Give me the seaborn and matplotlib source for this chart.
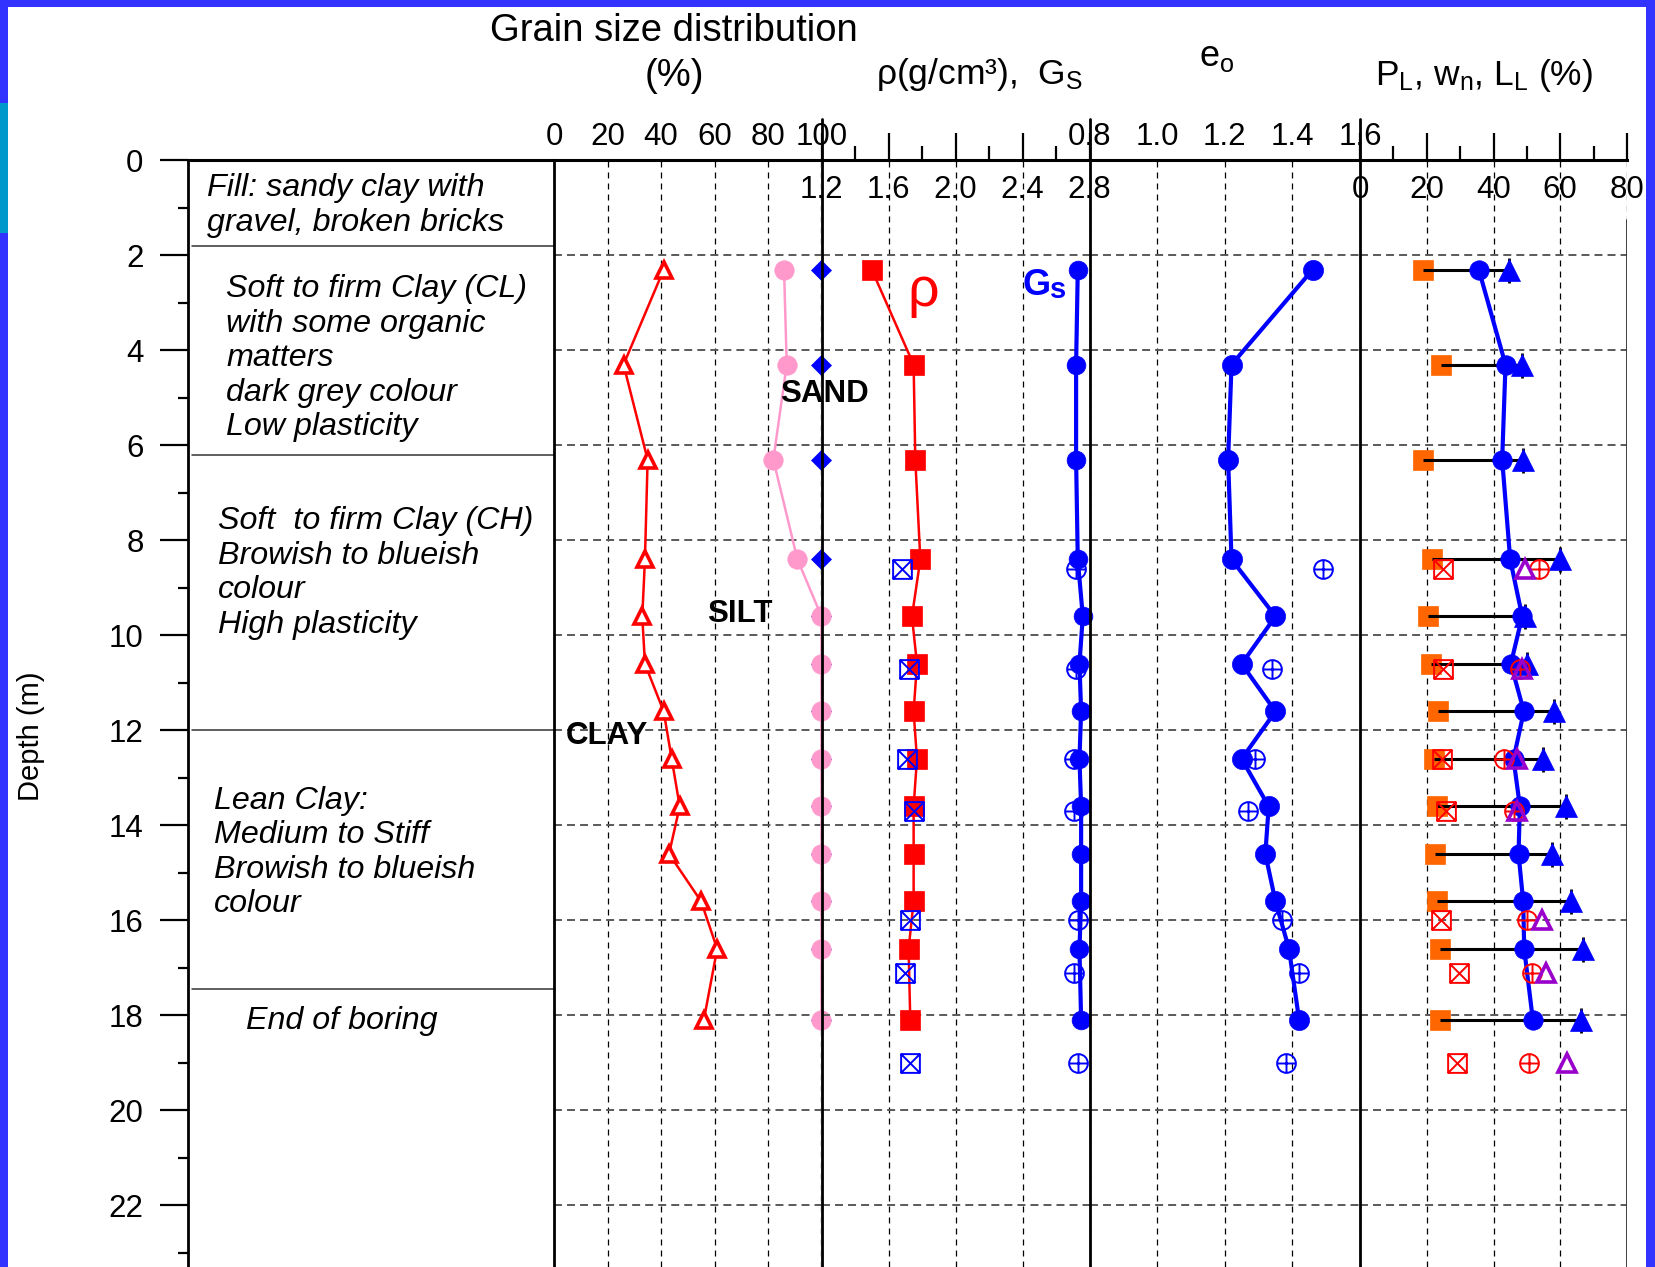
import matplotlib
matplotlib.use("Agg")
import matplotlib.pyplot as plt
import seaborn as sns
from matplotlib.path import Path
from matplotlib.patches import Rectangle
from matplotlib.ticker import FormatStrFormatter

# ---------------- borehole data ----------------
depth = [2.3, 4.3, 6.3, 8.4, 9.6, 10.6, 11.6, 12.6, 13.6, 14.6, 15.6, 16.6, 18.1]
clay_pct = [41, 26, 35, 34, 33, 34, 41, 44, 47, 43, 55, 61, 56]
silt_clay_pct = [86, 87, 82, 91, 100, 100, 100, 100, 100, 100, 100, 100, 100]
sand_silt_clay_pct = [100, 100, 100, 100, 100, 100, 100, 100, 100, 100, 100, 100, 100]
rho = [1.50, 1.75, 1.76, 1.79, 1.74, 1.77, 1.75, 1.77, 1.75, 1.75, 1.75, 1.72, 1.73]
gs = [2.73, 2.72, 2.72, 2.73, 2.76, 2.74, 2.75, 2.74, 2.75, 2.75, 2.75, 2.74, 2.75]
e0 = [1.46, 1.22, 1.21, 1.22, 1.35, 1.25, 1.35, 1.25, 1.33, 1.32, 1.35, 1.39, 1.42]
pl = [19.0, 24.3, 19.0, 21.5, 20.4, 21.3, 23.5, 22.1, 23.0, 22.6, 23.0, 24.0, 24.0]
wn = [35.6, 43.6, 42.6, 45.0, 48.6, 45.2, 49.1, 46.0, 47.9, 47.5, 48.9, 49.2, 51.8]
ll = [44.5, 48.6, 48.9, 60.0, 49.5, 50.0, 58.0, 54.9, 61.7, 57.5, 63.1, 66.7, 66.2]

# second borehole (open symbols)
depth_b = [8.6, 10.7, 12.6, 13.7, 16.0, 17.1, 19.0]
rho_b = [1.68, 1.72, 1.71, 1.75, 1.73, 1.70, 1.73]
gs_b = [2.72, 2.72, 2.71, 2.71, 2.73, 2.71, 2.73]
e0_b = [1.49, 1.34, 1.29, 1.27, 1.37, 1.42, 1.38]
pl_b = [24.9, 24.9, 24.6, 25.7, 24.4, 29.8, 29.2]
wn_b = [53.7, 47.9, 43.2, 46.2, 50.1, 51.5, 50.6]
ll_b = [49.5, 48.6, 46.9, 46.9, 54.6, 55.8, 61.9]

# soil profile
layer_bounds = [1.8, 6.2, 12.0, 17.45]
layer_texts = [
    (["Fill: sandy clay with", "gravel, broken bricks"], 0.052, 0.75),
    (["Soft to firm Clay (CL)", "with some organic", "matters", "dark grey colour",
      "Low plasticity"], 0.104, 2.88),
    (["Soft  to firm Clay (CH)", "Browish to blueish", "colour", "High plasticity"], 0.083, 7.76),
    (["Lean Clay:", "Medium to Stiff", "Browish to blueish", "colour"], 0.071, 13.65),
    (["End of boring"], 0.158, 18.28),
]

# axis ticks
depth_major = [0, 2, 4, 6, 8, 10, 12, 14, 16, 18, 20, 22]
depth_minor = [1, 3, 5, 7, 9, 11, 13, 15, 17, 19, 21, 23]
grain_ticks = [0, 20, 40, 60, 80, 100]
rho_ticks = [1.2, 1.6, 2.0, 2.4, 2.8]
rho_minor = [1.4, 1.8, 2.2, 2.6]
e0_ticks = [0.8, 1.0, 1.2, 1.4, 1.6]
pl_ticks = [0, 20, 40, 60, 80]
pl_minor = [10, 30, 50, 70]

# ---------------- style ----------------
sns.set_theme(style="white", rc={"axes.edgecolor": "black", "xtick.color": "black",
                                 "ytick.color": "black", "text.color": "black"})
plt.rcParams["font.family"] = ["Liberation Sans", "DejaVu Sans"]
plt.rcParams["mathtext.fontset"] = "custom"
plt.rcParams["mathtext.rm"] = "Liberation Sans"
plt.rcParams["mathtext.it"] = "Liberation Sans:italic"
plt.rcParams["mathtext.bf"] = "Liberation Sans:bold"

RED, BLUE, ORANGE, PINK, PURPLE = "#FF0000", "#0000FF", "#FF6600", "#FF99CC", "#9900CC"

# open square with a cross, and circle with a plus
BOXX = Path([(-1, -1), (1, -1), (1, 1), (-1, 1), (-1, -1), (-1, -1), (1, 1), (-1, 1), (1, -1)],
            [Path.MOVETO, Path.LINETO, Path.LINETO, Path.LINETO, Path.CLOSEPOLY,
             Path.MOVETO, Path.LINETO, Path.MOVETO, Path.LINETO])
OPLUS = Path.make_compound_path(
    Path.unit_circle(),
    Path([(-1, 0), (1, 0), (0, -1), (0, 1)], [Path.MOVETO, Path.LINETO, Path.MOVETO, Path.LINETO]))

W, H = 1655, 1267
TOP = 160.4          # pixel row of depth 0
PX_PER_M = 47.5
fig = plt.figure(figsize=(W / 100, H / 100), dpi=100)
fig.patch.set_facecolor("white")


def fx(px):
    return px / W


def fy(py):
    return 1 - py / H


ax_h = (H - TOP) / H
edges = [188, 554, 821.5, 1089.5, 1360, 1627]
axes = []
for i in range(5):
    a = fig.add_axes([fx(edges[i]), 0, (edges[i + 1] - edges[i]) / W, ax_h],
                     sharey=axes[0] if axes else None)
    axes.append(a)
ax0, ax1, ax2, ax3, ax4 = axes
DMAX = (H - TOP) / PX_PER_M


def profile(ax, x, y, **kw):
    sns.lineplot(x=x, y=y, ax=ax, sort=False, estimator=None, errorbar=None,
                 legend=False, clip_on=False, **kw)


# ---------------- grain size ----------------
profile(ax1, sand_silt_clay_pct, depth, color=BLUE, linestyle="none", marker="D",
        markersize=10.5, markeredgecolor=BLUE, markeredgewidth=0.5, zorder=3)
profile(ax1, silt_clay_pct, depth, color=PINK, linewidth=1.8, marker="o", markersize=14,
        markeredgecolor=PINK, markeredgewidth=0.5, zorder=3.2)
profile(ax1, clay_pct, depth, color=RED, linewidth=1.8, marker="^", markersize=12,
        markerfacecolor="white", markeredgecolor=RED, markeredgewidth=2.6, zorder=4)
tkw = dict(ha="center", va="center_baseline", fontsize=22.5, fontweight="bold", clip_on=False,
           zorder=6)
ax1.text(101, 4.84, "SAND", **tkw)
ax1.text(69.4, 9.48, "SILT", **tkw)
ax1.text(19.8, 12.05, "CLAY", **tkw)

# ---------------- density and specific gravity ----------------
profile(ax2, rho, depth, color=RED, linewidth=1.8, marker="s", markersize=14.5,
        markeredgecolor=RED, markeredgewidth=0.5, zorder=4)
profile(ax2, rho_b, depth_b, color=BLUE, linestyle="none", marker=BOXX, markersize=13.5,
        markerfacecolor="none", markeredgecolor=BLUE, markeredgewidth=1.4, zorder=5)
profile(ax2, gs, depth, color=BLUE, linewidth=3, marker="o", markersize=13.5,
        markeredgecolor=BLUE, markeredgewidth=0.5, zorder=4)
profile(ax2, gs_b, depth_b, color=BLUE, linestyle="none", marker=OPLUS, markersize=13.5,
        markerfacecolor="none", markeredgecolor=BLUE, markeredgewidth=1.4, zorder=5)
ax2.text(1.806, 3.06, "ρ", color=RED, fontsize=40, ha="center", va="baseline", zorder=6)
ax2.text(2.398, 2.83, "G", color=BLUE, fontsize=26, fontweight="bold", ha="left",
         va="baseline", zorder=6)
ax2.text(2.565, 2.90, "s", color=BLUE, fontsize=21, fontweight="bold", ha="left",
         va="baseline", zorder=6)

# ---------------- void ratio ----------------
profile(ax3, e0, depth, color=BLUE, linewidth=3, marker="o", markersize=14.5,
        markeredgecolor=BLUE, markeredgewidth=0.5, zorder=4)
profile(ax3, e0_b, depth_b, color=BLUE, linestyle="none", marker=OPLUS, markersize=13.5,
        markerfacecolor="none", markeredgecolor=BLUE, markeredgewidth=1.4, zorder=5)

# ---------------- Atterberg limits and water content ----------------
ax4.hlines(depth, pl, ll, colors="black", linewidth=2.2, zorder=3)
profile(ax4, pl, depth, color=ORANGE, linestyle="none", marker="s", markersize=14,
        markeredgecolor=ORANGE, markeredgewidth=0.5, zorder=2.5)
profile(ax4, ll, depth, color="black", linestyle="none", marker="|", markersize=18,
        markeredgecolor="black", markeredgewidth=2, zorder=3.5)
profile(ax4, wn, depth, color=BLUE, linewidth=3, marker="o", markersize=14,
        markeredgecolor=BLUE, markeredgewidth=0.5, zorder=4)
profile(ax4, ll, depth, color=BLUE, linestyle="none", marker="^", markersize=16.5,
        markeredgecolor=BLUE, markeredgewidth=0.5, zorder=4.5)
profile(ax4, pl_b, depth_b, color=RED, linestyle="none", marker=BOXX, markersize=13.5,
        markerfacecolor="none", markeredgecolor=RED, markeredgewidth=1.4, zorder=5)
profile(ax4, wn_b, depth_b, color=RED, linestyle="none", marker=OPLUS, markersize=13.5,
        markerfacecolor="none", markeredgecolor=RED, markeredgewidth=1.4, zorder=5)
profile(ax4, ll_b, depth_b, color=PURPLE, linestyle="none", marker="^", markersize=13,
        markerfacecolor="none", markeredgecolor=PURPLE, markeredgewidth=2.6, zorder=5.5)

# ---------------- soil description column ----------------
for yb in layer_bounds:
    ax0.axhline(yb, xmin=0.012, xmax=1, color="#333333", linewidth=1.1)
LINE_STEP = 34.5 / PX_PER_M
for lines, xf, y0 in layer_texts:
    for k, s in enumerate(lines):
        ax0.text(xf, y0 + k * LINE_STEP, s, transform=ax0.get_yaxis_transform(),
                 fontsize=23.2, style="italic", ha="left", va="baseline", clip_on=False)

# ---------------- axes styling ----------------
for a in axes:
    a.set_facecolor("none")
    a.set_xlabel("")
    a.set_ylabel("")
    for sp in a.spines.values():
        sp.set_visible(False)
        sp.set_color("black")
    a.spines["top"].set_visible(True)
    a.spines["top"].set_linewidth(2.2)

ax0.spines["left"].set_visible(True)
ax0.spines["left"].set_linewidth(2)
ax1.spines["left"].set_visible(True)
ax1.spines["left"].set_linewidth(2)

ax0.set_yticks(depth_major)
ax0.set_yticks(depth_minor, minor=True)
ax0.set_xticks([])
ax0.tick_params(axis="y", which="major", left=True, direction="out", length=20, width=1.6,
                labelsize=22.5, pad=12)
ax0.tick_params(axis="y", which="minor", left=True, direction="out", length=7, width=1.6)

for a in axes[1:]:
    a.tick_params(axis="y", which="both", left=False, right=False, labelleft=False)
    a.set_axisbelow(True)
    a.yaxis.grid(True, which="major", color="#5a5a5a", linewidth=1.4,
                 linestyle=(0, (4.1, 2.6)))
    a.xaxis.grid(True, which="major", color="black", linewidth=0.9,
                 linestyle=(0, (4.8, 4.0)))

for a, lim, ticks, fmt in [(ax1, (0, 100), grain_ticks, "%d"),
                           (ax3, (0.8, 1.6), e0_ticks, "%.1f")]:
    a.set_xlim(*lim)
    a.set_xticks(ticks)
    a.xaxis.set_major_formatter(FormatStrFormatter(fmt))
    a.tick_params(axis="x", which="both", bottom=False, labelbottom=False, top=True,
                  labeltop=True, length=0, pad=5.9, labelsize=22.5)

for a, lim, ticks, minor, fmt in [(ax2, (1.2, 2.8), rho_ticks, rho_minor, "%.1f"),
                                  (ax4, (0, 80), pl_ticks, pl_minor, "%d")]:
    a.set_xlim(*lim)
    a.set_xticks(ticks)
    a.set_xticks(minor, minor=True)
    a.xaxis.set_major_formatter(FormatStrFormatter(fmt))
    a.tick_params(axis="x", which="major", bottom=False, labelbottom=False, top=True,
                  labeltop=True, direction="out", length=19.5, width=1.6, pad=-51.8,
                  labelsize=22.5)
    a.tick_params(axis="x", which="minor", bottom=False, top=True, direction="out",
                  length=10, width=1.6)

# solid panel boundaries, running up through the scale labels
EXT = 1 + (TOP - 119) / (H - TOP)
ax2.axvline(1.2, 0, EXT, color="black", linewidth=2, clip_on=False, zorder=3.6)
ax3.axvline(0.8, 0, EXT, color="black", linewidth=2, clip_on=False, zorder=3.6)
ax4.axvline(0, 0, EXT, color="black", linewidth=2, clip_on=False, zorder=3.6)
ax4.axvline(80, 0, 1 - (220 - TOP) / (H - TOP), color="#333333", linewidth=1.3, zorder=3)

ax0.set_ylim(DMAX, 0)

# ---------------- headings ----------------
fig.text(fx(674), fy(41), "Grain size distribution", ha="center", va="baseline", fontsize=27.5)
fig.text(fx(674), fy(86), "(%)", ha="center", va="baseline", fontsize=27.5)
fig.text(fx(876), fy(84), "ρ(g/cm³),  G$_\\mathrm{S}$", ha="left", va="baseline", fontsize=25.5)
fig.text(fx(1199), fy(66), "e$_\\mathrm{o}$", ha="left", va="baseline", fontsize=26)
fig.text(fx(1375), fy(84.5), "P$_\\mathrm{L}$, w$_\\mathrm{n}$, L$_\\mathrm{L}$ (%)",
         ha="left", va="baseline", fontsize=25.5)
fig.text(fx(31), fy(736), "Depth (m)", rotation=90, ha="center", va="center", fontsize=21)

# slide frame
frame = dict(transform=fig.transFigure, linewidth=0, zorder=20)
fig.add_artist(Rectangle((0, fy(7)), 1, 7 / H, facecolor="#3333FF", **frame))
fig.add_artist(Rectangle((0, 0), 8 / W, 1, facecolor="#3333FF", **frame))
fig.add_artist(Rectangle((fx(1646), 0), 9 / W, 1, facecolor="#3333FF", **frame))
fig.add_artist(Rectangle((0, fy(233)), 8 / W, 130 / H, facecolor="#0099CC", **frame))

fig.savefig("out.png", dpi=100)
